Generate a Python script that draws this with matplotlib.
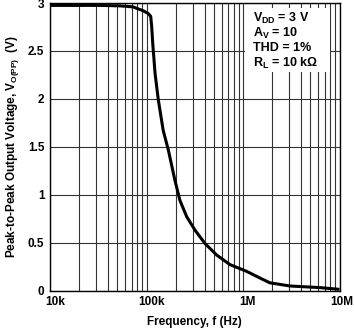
import numpy as np
import matplotlib
matplotlib.use('Agg')
import matplotlib.pyplot as plt
import matplotlib.transforms as mtransforms
from matplotlib.ticker import FixedLocator, NullFormatter

# ---------------------------------------------------------------------------
# data
# ---------------------------------------------------------------------------

freq_hz = [10e3, 33e3, 53e3, 72e3, 92e3, 104.5e3, 110.6e3, 113.3e3, 116e3,
           119.6e3, 122.5e3, 132.5e3, 149e3, 168e3, 197e3, 222e3, 261e3,
           318e3, 404e3, 534e3, 733e3, 1.09e6, 1.5e6, 1.9e6, 3.07e6, 6.3e6, 10e6]
vout_pp = [2.975, 2.975, 2.97, 2.96, 2.92, 2.89, 2.86, 2.75, 2.58,
           2.41, 2.27, 1.99, 1.67, 1.47, 1.15, 0.94, 0.77,
           0.63, 0.49, 0.37, 0.27, 0.20, 0.13, 0.08, 0.047, 0.03, 0.012]

xticks = [1e4, 1e5, 1e6, 1e7]
xtick_labels = ['10k', '100k', '1M', '10M']
yticks = [0, 0.5, 1, 1.5, 2, 2.5, 3]
ytick_labels = ['0', '0.5', '1', '1.5', '2', '2.5', '3']
conditions = [r'V$_\mathregular{DD}$ = 3 V', r'A$_\mathregular{V}$ = 10',
              'THD = 1%', r'R$_\mathregular{L}$ = 10 k$\Omega$']

# ---------------------------------------------------------------------------
# style
# ---------------------------------------------------------------------------

plt.rcParams['font.family'] = ['Liberation Sans', 'DejaVu Sans']
plt.rcParams['font.weight'] = 'bold'
plt.rcParams['mathtext.fontset'] = 'custom'
plt.rcParams['mathtext.rm'] = 'Liberation Sans:bold'
plt.rcParams['mathtext.bf'] = 'Liberation Sans:bold'
plt.rcParams['mathtext.it'] = 'Liberation Sans:bold'

fig = plt.figure(figsize=(3.54, 3.28), dpi=100)
ax = fig.add_axes([50/354, 1-290.5/328, 289.5/354, 287.5/328])

ax.set_xscale('log')
ax.set_xlim(1e4, 1e7)
ax.set_ylim(0, 3)

# grid: every 0.5 V and 2..9 of each decade
minors = [m*10**d for d in range(4, 7) for m in range(2, 10)]
ax.xaxis.set_minor_locator(FixedLocator(minors))
ax.xaxis.set_minor_formatter(NullFormatter())
ax.set_xticks(xticks)
ax.set_xticklabels(xtick_labels)
ax.set_yticks(yticks)
ax.set_yticklabels(ytick_labels)
ax.grid(True, which='both', color='#333333', lw=0.8)
ax.tick_params(which='both', length=0, labelsize=8.5, pad=4)
for s in ax.spines.values():
    s.set_linewidth(1.0)
    s.set_zorder(5)

# x tick labels sit a few pixels right of their grid lines in the reference
for lab, dx in zip(ax.get_xticklabels(), [5, 5, 4, 2]):
    shift = mtransforms.ScaledTranslation(dx/100, 0, fig.dpi_scale_trans)
    lab.set_transform(lab.get_transform() + shift)

ax.plot(freq_hz, vout_pp, color='k', lw=2.2, zorder=4,
        solid_capstyle='butt', solid_joinstyle='round')

# conditions box (white patch hides grid)
ax.add_patch(plt.Rectangle((245/354, 1-72/328), 85/354, 64/328, transform=fig.transFigure,
                           facecolor='white', edgecolor='none', zorder=3))
for i, t in enumerate(conditions):
    fig.text(253/354, 1-(18 + 15*i)/328, t, fontsize=9, fontweight='bold',
             va='center', ha='left', zorder=6)

ax.set_xlabel('Frequency, f (Hz)', fontsize=8.5, fontweight='bold', labelpad=6)
ax.set_ylabel(r'Peak-to-Peak Output Voltage, V$_\mathregular{O(PP)}$  (V)',
              fontsize=8.5, fontweight='bold', labelpad=5)

fig.savefig('out.png', dpi=100)
